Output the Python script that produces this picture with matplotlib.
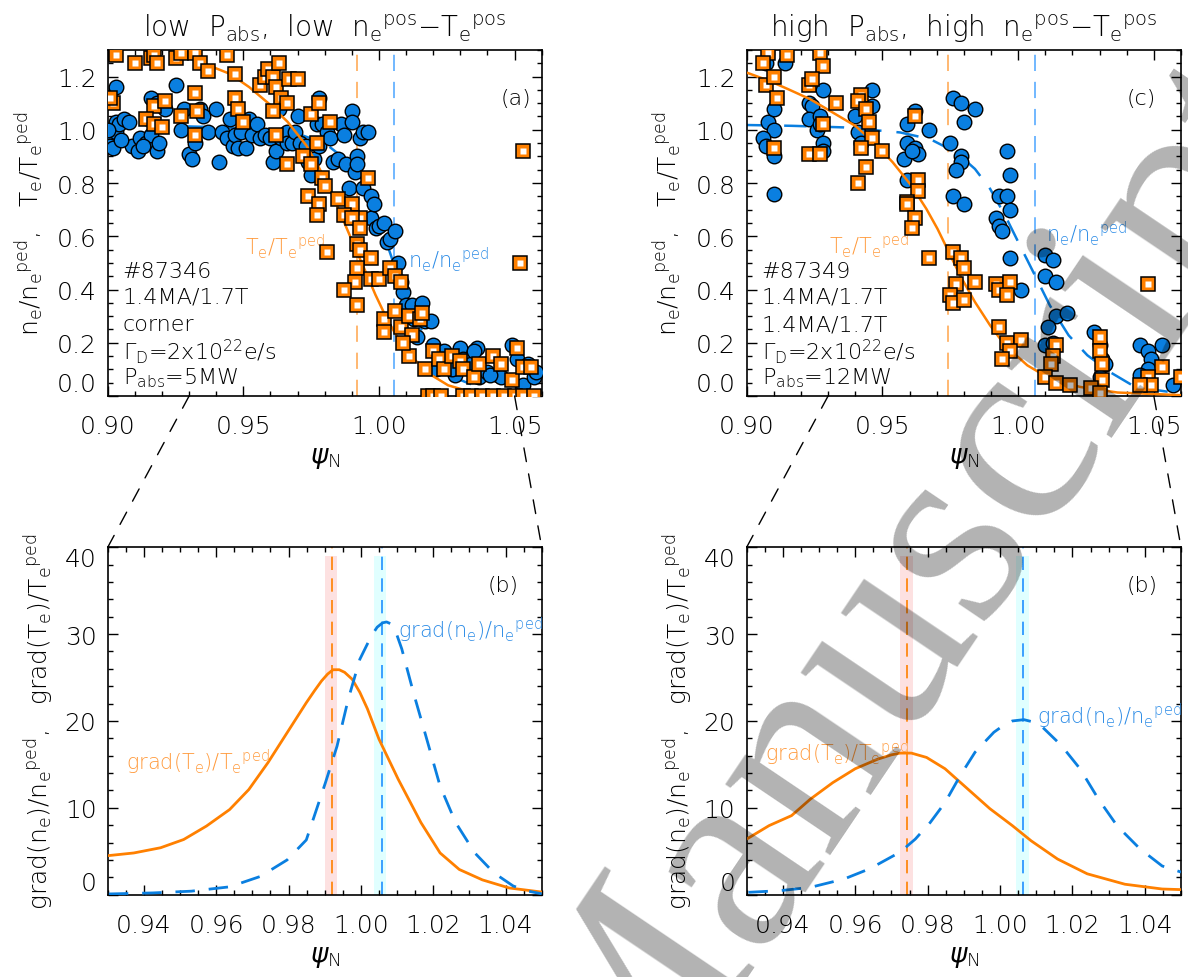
import numpy as np
import matplotlib
matplotlib.use('Agg')
import matplotlib.pyplot as plt
from matplotlib.ticker import MultipleLocator
from matplotlib.patches import ConnectionPatch

plt.rcParams['font.family'] = ['DejaVu Sans']
plt.rcParams['font.weight'] = 'light'
plt.rcParams['axes.labelweight'] = 'light'
plt.rcParams['axes.titleweight'] = 'light'
plt.rcParams['mathtext.default'] = 'regular'

ORANGE = '#ff8000'
BLUE = '#0a7fe0'
TXT_OR = '#ff9a3c'
TXT_BL = '#2b8be6'

# ---------------- panel (a): #87346, low Pabs ----------------
a_ne_x = [0.903, 0.901, 0.901, 0.903, 0.903, 0.902, 0.904, 0.906, 0.908, 0.909, 0.911, 0.912, 0.914,
          0.916, 0.916, 0.918, 0.918, 0.921, 0.925, 0.927, 0.928, 0.930, 0.931, 0.932, 0.934, 0.935,
          0.937, 0.940, 0.941, 0.942, 0.944, 0.945, 0.946, 0.947, 0.948, 0.949, 0.951, 0.952, 0.953,
          0.955, 0.956, 0.958, 0.960, 0.961, 0.962, 0.963, 0.964, 0.966, 0.966, 0.968, 0.969, 0.970,
          0.971, 0.973, 0.974, 0.975, 0.976, 0.977, 0.978, 0.978, 0.979, 0.981, 0.982, 0.983, 0.985,
          0.986, 0.987, 0.988, 0.989, 0.990, 0.990, 0.991, 0.992, 0.992, 0.993, 0.994, 0.994, 0.996,
          0.997, 0.997, 0.998, 0.999, 1.000, 1.002, 1.003, 1.004, 1.006, 1.007, 1.008, 1.009, 1.010,
          1.012, 1.013, 1.014, 1.016, 1.017, 1.019, 1.020, 1.023, 1.024, 1.026, 1.028, 1.030, 1.031,
          1.034, 1.036, 1.037, 1.040, 1.044, 1.045, 1.049, 1.051, 1.053, 1.055, 1.057, 1.058, 1.021,
          1.027, 1.035, 1.041, 0.900, 0.905, 0.913, 0.919]
a_ne_y = [1.16, 0.97, 0.94, 1.03, 0.99, 0.93, 1.02, 1.04, 1.03, 0.94, 0.92, 0.97, 0.95,
          0.98, 1.12, 0.92, 1.10, 1.08, 1.17, 1.00, 1.08, 0.91, 0.89, 0.95, 1.08, 1.05,
          0.99, 1.08, 0.88, 0.99, 0.97, 1.04, 0.94, 0.98, 0.93, 0.99, 0.93, 1.04, 0.98,
          1.02, 0.97, 0.98, 0.97, 0.88, 0.92, 1.08, 0.97, 0.99, 0.95, 0.95, 0.99, 1.05,
          0.95, 0.94, 0.88, 0.83, 0.89, 1.02, 1.12, 0.94, 1.02, 0.99, 0.97, 0.88, 0.89,
          1.02, 0.98, 0.87, 0.78, 1.07, 1.03, 0.84, 0.90, 0.87, 0.97, 0.78, 0.99, 0.99,
          0.67, 0.75, 0.72, 0.63, 0.64, 0.65, 0.58, 0.59, 0.62, 0.50, 0.43, 0.39, 0.34,
          0.34, 0.29, 0.22, 0.35, 0.28, 0.28, 0.19, 0.12, 0.17, 0.14, 0.08, 0.18, 0.14,
          0.12, 0.18, 0.07, 0.09, 0.08, 0.07, 0.19, 0.14, 0.04, 0.12, 0.07, 0.09, 0.10,
          0.10, 0.17, 0.08, 1.00, 0.96, 0.94, 0.95]
a_te_x = [0.903, 0.910, 0.916, 0.917, 0.918, 0.925, 0.927, 0.932, 0.934, 0.937, 0.944, 0.947, 0.956,
          0.958, 0.959, 0.961, 0.962, 0.963, 0.964, 0.966, 0.967, 0.970, 0.902, 0.901, 0.917, 0.921,
          0.932, 0.933, 0.947, 0.948, 0.927, 0.914, 0.917, 0.920, 0.932, 0.950, 0.961, 0.962, 0.975,
          0.978, 0.982, 0.977, 0.972, 0.966, 0.975, 0.979, 0.980, 0.985, 0.990, 0.993, 0.974, 0.978,
          0.977, 0.987, 0.990, 0.993, 0.992, 0.993, 0.997, 0.981, 0.992, 0.991, 0.987, 0.992, 0.996,
          0.997, 1.000, 1.002, 1.002, 1.004, 1.006, 1.008, 1.006, 1.008, 1.011, 1.012, 1.015, 1.016,
          1.011, 1.017, 1.020, 1.022, 1.024, 1.027, 1.030, 1.031, 1.035, 1.037, 1.042, 1.045, 1.049,
          1.051, 1.053, 1.056, 1.053, 1.052, 1.009,
          1.018, 1.020, 1.023, 1.031, 1.034, 1.038, 1.042, 1.046, 1.050, 1.053, 1.057]
a_te_y = [1.28, 1.25, 1.27, 1.28, 1.25, 1.27, 1.29, 1.29, 1.25, 1.22, 1.28, 1.21, 1.17,
          1.20, 1.23, 1.20, 1.16, 1.25, 1.12, 1.10, 1.19, 1.19, 1.10, 1.12, 1.09, 1.11,
          1.14, 1.07, 1.12, 1.08, 1.05, 1.04, 1.02, 1.01, 0.98, 1.03, 1.07, 0.98, 1.06,
          1.10, 1.03, 0.95, 0.90, 0.87, 0.87, 0.82, 0.79, 0.74, 0.72, 0.67, 0.75, 0.72,
          0.68, 0.68, 0.67, 0.63, 0.57, 0.55, 0.52, 0.54, 0.48, 0.43, 0.40, 0.34, 0.82,
          0.44, 0.44, 0.29, 0.24, 0.48, 0.45, 0.43, 0.32, 0.26, 0.30, 0.23, 0.29, 0.31,
          0.15, 0.10, 0.17, 0.14, 0.10, 0.15, 0.13, 0.10, 0.07, 0.12, 0.15, 0.12, 0.06,
          0.18, 0.11, 0.11, 0.92, 0.50, 0.20,
          0.0, 0.0, 0.0, 0.0, 0.0, 0.0, 0.0, 0.0, 0.0, 0.0, 0.0]
a_te_fit_x = [0.900, 0.910, 0.920, 0.9254, 0.9352, 0.9451, 0.9522, 0.9592, 0.9663, 0.9733, 0.9775,
              0.9818, 0.986, 0.9902, 0.9945, 0.9987, 1.0029, 1.0071, 1.0128, 1.0184, 1.0255,
              1.0339, 1.0438, 1.060]
a_te_fit_y = [1.37, 1.35, 1.32, 1.30, 1.25, 1.21, 1.16, 1.10, 1.03, 0.94, 0.865,
              0.78, 0.68, 0.58, 0.48, 0.38, 0.29, 0.215, 0.14, 0.084, 0.04,
              0.015, 0.005, 0.0]
a_ne_fit_x = [0.900, 0.920, 0.940, 0.960, 0.970, 0.980, 0.985, 0.990, 0.995, 1.000, 1.005,
              1.010, 1.015, 1.020, 1.025, 1.030, 1.040, 1.050, 1.060]
a_ne_fit_y = [1.02, 1.015, 1.01, 1.0, 0.985, 0.95, 0.91, 0.88, 0.79, 0.66, 0.51,
              0.37, 0.26, 0.17, 0.10, 0.06, 0.02, 0.008, 0.003]
a_te_pos, a_ne_pos = 0.992, 1.0057

# ---------------- panel (c): #87349, high Pabs ----------------
c_ne_x = [0.907, 0.914, 0.908, 0.910, 0.910, 0.906, 0.907, 0.910, 0.910, 0.923, 0.924, 0.923, 0.926,
          0.927, 0.928, 0.928, 0.928, 0.927, 0.940, 0.941, 0.942, 0.946, 0.946, 0.959, 0.958, 0.962,
          0.962, 0.963, 0.961, 0.959, 0.967, 0.959, 0.976, 0.979, 0.980, 0.984, 0.975, 0.979, 0.979,
          0.977, 0.976, 0.980, 0.996, 0.997, 0.993, 0.996, 0.997, 0.992, 0.993, 0.994, 0.997, 1.001,
          1.010, 1.013, 1.010, 1.014, 1.014, 1.018, 1.011, 1.010, 1.013, 1.028, 1.030, 1.031, 1.032,
          1.045, 1.048, 1.049, 1.053, 1.048, 1.045, 1.057, 1.030]
c_ne_y = [1.25, 1.25, 1.03, 1.00, 1.08, 0.97, 0.94, 0.90, 0.76, 1.10, 1.09, 1.04, 1.00,
          1.05, 0.95, 0.92, 1.15, 1.02, 1.05, 0.99, 0.95, 1.15, 1.09, 0.95, 0.89, 1.07,
          0.93, 0.91, 0.92, 1.02, 1.00, 0.81, 1.12, 1.10, 1.03, 1.08, 0.95, 0.90, 0.88,
          0.85, 0.75, 0.72, 0.92, 0.83, 0.75, 0.75, 0.70, 0.67, 0.64, 0.62, 0.52, 0.40,
          0.53, 0.51, 0.45, 0.43, 0.30, 0.31, 0.26, 0.19, 0.20, 0.24, 0.19, 0.14, 0.12,
          0.19, 0.17, 0.14, 0.19, 0.10, 0.08, 0.04, 0.07]
c_te_x = [0.908, 0.915, 0.927, 0.928, 0.906, 0.907, 0.910, 0.911, 0.923, 0.924, 0.933, 0.928, 0.923,
          0.927, 0.910, 0.942, 0.941, 0.944, 0.945, 0.946, 0.942, 0.944, 0.941, 0.950, 0.962, 0.963,
          0.963, 0.959, 0.959, 0.962, 0.961, 0.967, 0.976, 0.979, 0.980, 0.984, 0.977, 0.975, 0.976,
          0.980, 0.992, 0.993, 0.997, 0.996, 0.993, 0.996, 1.001, 0.997, 0.994, 1.014, 1.013, 1.012,
          1.010, 1.014, 1.019, 1.030, 1.030, 1.031, 1.031, 1.027, 1.030, 1.048, 1.053, 1.048, 1.049,
          1.045, 1.060]
c_te_y = [1.29, 1.28, 1.29, 1.24, 1.25, 1.17, 1.20, 1.12, 1.17, 1.19, 1.10, 1.02, 0.91,
          0.91, 0.93, 1.13, 1.11, 1.08, 1.03, 0.97, 0.93, 0.86, 0.80, 0.92, 1.05, 0.81,
          0.77, 0.73, 0.72, 0.67, 0.63, 0.52, 0.54, 0.52, 0.48, 0.43, 0.42, 0.38, 0.35,
          0.36, 0.42, 0.40, 0.43, 0.38, 0.26, 0.20, 0.21, 0.17, 0.14, 0.19, 0.15, 0.12,
          0.07, 0.05, 0.04, 0.22, 0.17, 0.12, 0.06, 0.03, 0.01, 0.42, 0.11, 0.07, 0.04,
          0.04, 0.07]
c_te_fit_x = [0.900, 0.9083, 0.9152, 0.9234, 0.9317, 0.940, 0.9469, 0.9538, 0.9607, 0.9662, 0.9703,
              0.9745, 0.9786, 0.9841, 0.9897, 0.9952, 1.0034, 1.0117, 1.0228, 1.0366, 1.060]
c_te_fit_y = [1.215, 1.184, 1.153, 1.115, 1.065, 1.015, 0.953, 0.878, 0.79, 0.703, 0.628,
              0.54, 0.453, 0.353, 0.265, 0.19, 0.115, 0.065, 0.034, 0.013, 0.003]
c_ne_fit_x = [0.900, 0.9166, 0.9359, 0.9566, 0.9676, 0.9772, 0.9841, 0.9897, 0.9952, 1.0007, 1.0062,
              1.0117, 1.0186, 1.0255, 1.0338, 1.0421, 1.0517, 1.060]
c_ne_fit_y = [1.018, 1.015, 1.009, 0.99, 0.965, 0.915, 0.853, 0.778, 0.678, 0.565, 0.453,
              0.34, 0.228, 0.153, 0.09, 0.04, 0.021, 0.009]
c_te_pos, c_ne_pos = 0.9742, 1.0062

# ---------------- panel (b): gradients of #87346 ----------------
b_te_x = [0.9303, 0.9372, 0.9446, 0.951, 0.9573, 0.9637, 0.969, 0.9743, 0.9796, 0.9849, 0.9872,
          0.9891, 0.9908, 0.9923, 0.9940, 0.9955, 0.9976, 0.9997, 1.0018, 1.005, 1.0103, 1.0166,
          1.0219, 1.0272, 1.0336, 1.041, 1.050]
b_te_y = [4.5, 4.8, 5.4, 6.35, 7.9, 9.8, 12.1, 15.2, 18.65, 22.1, 23.5,
          24.6, 25.4, 25.9, 25.9, 25.6, 24.8, 23.3, 21.4, 17.9, 13.3, 8.3,
          4.8, 2.9, 1.7, 0.77, 0.3]
b_ne_x = [0.9303, 0.9425, 0.9531, 0.9637, 0.9722, 0.9796, 0.9849, 0.9902, 0.9934, 0.9965, 0.9997,
          1.0029, 1.0045, 1.006, 1.0071, 1.0082, 1.0097, 1.0113, 1.0145, 1.0177, 1.0219, 1.0262,
          1.0315, 1.0368, 1.0421, 1.0463, 1.050]
b_ne_y = [0.08, 0.2, 0.4, 0.9, 2.1, 4.0, 6.3, 12.9, 17.1, 22.5, 27.1,
          29.8, 30.8, 31.3, 31.4, 31.2, 30.2, 28.3, 23.3, 18.65, 12.5, 8.3,
          4.8, 2.5, 1.0, 0.4, 0.1]
b_te_band = (0.9902, 0.9933)
b_ne_band = (1.0037, 1.0069)
b_te_pos, b_ne_pos = 0.9919, 1.0057

# ---------------- panel (d): gradients of #87349 ----------------
d_te_x = [0.930, 0.9362, 0.9424, 0.9476, 0.9538, 0.960, 0.9662, 0.9700, 0.9724, 0.9755, 0.9797,
          0.9848, 0.991, 0.9972, 1.0034, 1.0086, 1.0159, 1.0241, 1.0345, 1.0448, 1.050]
d_te_y = [6.4, 7.95, 9.1, 11.0, 12.9, 14.5, 15.6, 16.1, 16.3, 16.3, 15.8,
          14.5, 12.2, 9.9, 7.95, 6.2, 4.1, 2.4, 1.2, 0.65, 0.58]
d_ne_x = [0.9305, 0.9393, 0.9476, 0.9569, 0.9641, 0.9724, 0.9766, 0.9807, 0.9848, 0.989, 0.9931,
          0.9983, 1.0010, 1.0034, 1.0066, 1.0090, 1.0117, 1.0169, 1.0221, 1.0272, 1.0324, 1.0386,
          1.0448, 1.050]
d_ne_y = [0.27, 0.46, 0.84, 1.8, 3.0, 4.9, 6.4, 8.3, 10.6, 13.7, 16.4,
          18.7, 19.5, 20.0, 20.15, 19.9, 19.3, 17.2, 14.5, 11.0, 7.9, 5.3,
          3.3, 2.6]
d_te_band = (0.9724, 0.9760)
d_ne_band = (1.0045, 1.0081)
d_te_pos, d_ne_pos = 0.9743, 1.0063


def style(ax, xmaj, xmin, ymaj, ymin):
    ax.xaxis.set_major_locator(MultipleLocator(xmaj))
    ax.xaxis.set_minor_locator(MultipleLocator(xmin))
    ax.yaxis.set_major_locator(MultipleLocator(ymaj))
    ax.yaxis.set_minor_locator(MultipleLocator(ymin))
    ax.tick_params(which='both', direction='in', top=True, right=True, width=1.0, colors='k',
                   labelcolor='black')
    ax.tick_params(which='major', length=7)
    ax.tick_params(which='minor', length=3.5)
    ax.tick_params(axis='x', labelsize=18, pad=13)
    ax.tick_params(axis='y', labelsize=18, pad=8)
    for s in ax.spines.values():
        s.set_linewidth(1.2)


def scatter_panel(ax, ne_x, ne_y, te_x, te_y):
    ax.scatter(ne_x, ne_y, s=110, c=BLUE, edgecolors='k', linewidths=1.0, zorder=3)
    for i, (x, y) in enumerate(zip(te_x, te_y)):
        ax.plot(x, y, 's', ms=10.5, mfc=ORANGE, mec='k', mew=1.1, zorder=5 + i * 1e-3)
        ax.plot(x, y, 's', ms=4.8, mfc='white', mec='none', zorder=5 + i * 1e-3 + 5e-4)


PSI = r'$\mathit{\psi}_N$'

fig = plt.figure(figsize=(11.88, 9.78), dpi=100)
ax_a = fig.add_axes([0.0907, 0.5941, 0.3653, 0.3538])
ax_c = fig.add_axes([0.6285, 0.5941, 0.3656, 0.3538])
ax_b = fig.add_axes([0.0907, 0.0842, 0.3653, 0.3552])
ax_d = fig.add_axes([0.6285, 0.0842, 0.3656, 0.3552])

# top panels
for ax, nx, ny, tx, ty, tfx, tfy, nfx, nfy, tpos, npos in [
        (ax_a, a_ne_x, a_ne_y, a_te_x, a_te_y, a_te_fit_x, a_te_fit_y, a_ne_fit_x, a_ne_fit_y, a_te_pos, a_ne_pos),
        (ax_c, c_ne_x, c_ne_y, c_te_x, c_te_y, c_te_fit_x, c_te_fit_y, c_ne_fit_x, c_ne_fit_y, c_te_pos, c_ne_pos)]:
    ax.axvline(tpos, color='#ffb266', lw=1.3, dashes=(9, 6), zorder=1)
    ax.axvline(npos, color='#66b2ff', lw=1.3, dashes=(9, 6), zorder=1)
    ax.plot(nfx, nfy, color=BLUE, lw=1.8, dashes=(9, 6), zorder=2)
    scatter_panel(ax, nx, ny, tx, ty)
    ax.plot(tfx, tfy, color=ORANGE, lw=1.8, zorder=4)
    ax.set_xlim(0.90, 1.06)
    ax.set_ylim(0.0, 1.3)
    style(ax, 0.05, 0.01, 0.2, 0.05)
    ax.set_xticks([0.90, 0.95, 1.00, 1.05])
    ax.set_xticklabels(['0.90', '0.95', '1.00', '1.05'])
    ax.set_yticks([0.0, 0.2, 0.4, 0.6, 0.8, 1.0, 1.2])
    ax.set_yticklabels(['0.0', '0.2', '0.4', '0.6', '0.8', '1.0', '1.2'])
    ax.get_yticklabels()[0].set_va('bottom')
    ax.set_xlabel(PSI, fontsize=19, labelpad=5)
    ax.set_ylabel(r'n$_e$/n$_e{}^{ped}$,   T$_e$/T$_e{}^{ped}$', fontsize=18, labelpad=8)

ax_a.set_title(r'low  P$_{abs}$,  low  n$_e{}^{pos}$$-$T$_e{}^{pos}$', fontsize=20, pad=10)
ax_c.set_title(r'high  P$_{abs}$,  high  n$_e{}^{pos}$$-$T$_e{}^{pos}$', fontsize=20, pad=10)

ax_a.text(1.045, 1.12, '(a)', fontsize=16, ha='left', va='center')
ax_c.text(1.040, 1.12, '(c)', fontsize=16, ha='left', va='center')
ax_a.text(0.9507, 0.565, r'T$_e$/T$_e{}^{ped}$', color=TXT_OR, fontsize=15, ha='left', va='center')
ax_a.text(1.0107, 0.515, r'n$_e$/n$_e{}^{ped}$', color=TXT_BL, fontsize=15, ha='left', va='center')
ax_c.text(0.9303, 0.57, r'T$_e$/T$_e{}^{ped}$', color=TXT_OR, fontsize=15, ha='left', va='center')
ax_c.text(1.0103, 0.615, r'n$_e$/n$_e{}^{ped}$', color=TXT_BL, fontsize=15, ha='left', va='center')

info_a = ['#87346', '1.4MA/1.7T', 'corner', r'$\Gamma_D$=2x10$^{22}$e/s', r'P$_{abs}$=5MW']
info_c = ['#87349', '1.4MA/1.7T', '1.4MA/1.7T', r'$\Gamma_D$=2x10$^{22}$e/s', r'P$_{abs}$=12MW']
info_y = [0.47, 0.375, 0.27, 0.17, 0.07]
for ax, info in [(ax_a, info_a), (ax_c, info_c)]:
    for s, yy in zip(info, info_y):
        ax.text(0.9055, yy, s, fontsize=16, ha='left', va='center', color='black')

# bottom panels
for ax, tx, ty, nx, ny, tband, nband, tpos, npos in [
        (ax_b, b_te_x, b_te_y, b_ne_x, b_ne_y, b_te_band, b_ne_band, b_te_pos, b_ne_pos),
        (ax_d, d_te_x, d_te_y, d_ne_x, d_ne_y, d_te_band, d_ne_band, d_te_pos, d_ne_pos)]:
    ax.fill_between(tband, 0, 39, color='#fde1e1', lw=0, zorder=0)
    ax.fill_between(nband, 0, 39, color='#e0ffff', lw=0, zorder=0)
    ax.axvline(tpos, color=ORANGE, lw=1.2, dashes=(8, 5), zorder=1)
    ax.axvline(npos, color='#1e90ff', lw=1.2, dashes=(8, 5), zorder=1)
    ax.plot(tx, ty, color=ORANGE, lw=2.0, zorder=3)
    ax.plot(nx, ny, color=BLUE, lw=2.0, dashes=(7, 5), zorder=3)
    ax.set_xlim(0.93, 1.05)
    ax.set_ylim(0, 40)
    style(ax, 0.02, 0.005, 10, 2)
    ax.set_xticks([0.94, 0.96, 0.98, 1.00, 1.02, 1.04])
    ax.set_xticklabels(['0.94', '0.96', '0.98', '1.00', '1.02', '1.04'])
    ax.set_yticks([0, 10, 20, 30, 40])
    ax.set_yticklabels(['0', '10', '20', '30', '40'])
    ax.get_yticklabels()[0].set_va('bottom')
    ax.get_yticklabels()[-1].set_va('top')
    ax.set_xlabel(PSI, fontsize=19, labelpad=5)
    ax.set_ylabel(r'grad(n$_e$)/n$_e{}^{ped}$,   grad(T$_e$)/T$_e{}^{ped}$', fontsize=18, labelpad=6)
    ax.text(1.035, 35.6, '(b)', fontsize=16, ha='left', va='center')

ax_b.text(0.9351, 15.3, r'grad(T$_e$)/T$_e{}^{ped}$', color=TXT_OR, fontsize=15, ha='left', va='center')
ax_b.text(1.0103, 30.6, r'grad(n$_e$)/n$_e{}^{ped}$', color=TXT_BL, fontsize=15, ha='left', va='center')
ax_d.text(0.9352, 16.4, r'grad(T$_e$)/T$_e{}^{ped}$', color=TXT_OR, fontsize=15, ha='left', va='center')
ax_d.text(1.0102, 20.6, r'grad(n$_e$)/n$_e{}^{ped}$', color=TXT_BL, fontsize=15, ha='left', va='center')

# zoom connectors
for top, bot in [(ax_a, ax_b), (ax_c, ax_d)]:
    for xv in (0.93, 1.05):
        con = ConnectionPatch(xyA=(xv, 0.0), coordsA=top.transData, xyB=(xv, 40), coordsB=bot.transData,
                              color='k', lw=1.0, linestyle=(0, (10, 9)))
        fig.add_artist(con)

# watermark
fig.text(0.77, 0.385, 'Manuscript', rotation=56, fontsize=198, family='Liberation Serif',
         fontweight='normal', color='k', alpha=0.3, ha='center', va='center', zorder=100)

fig.savefig('out.png', dpi=100)
